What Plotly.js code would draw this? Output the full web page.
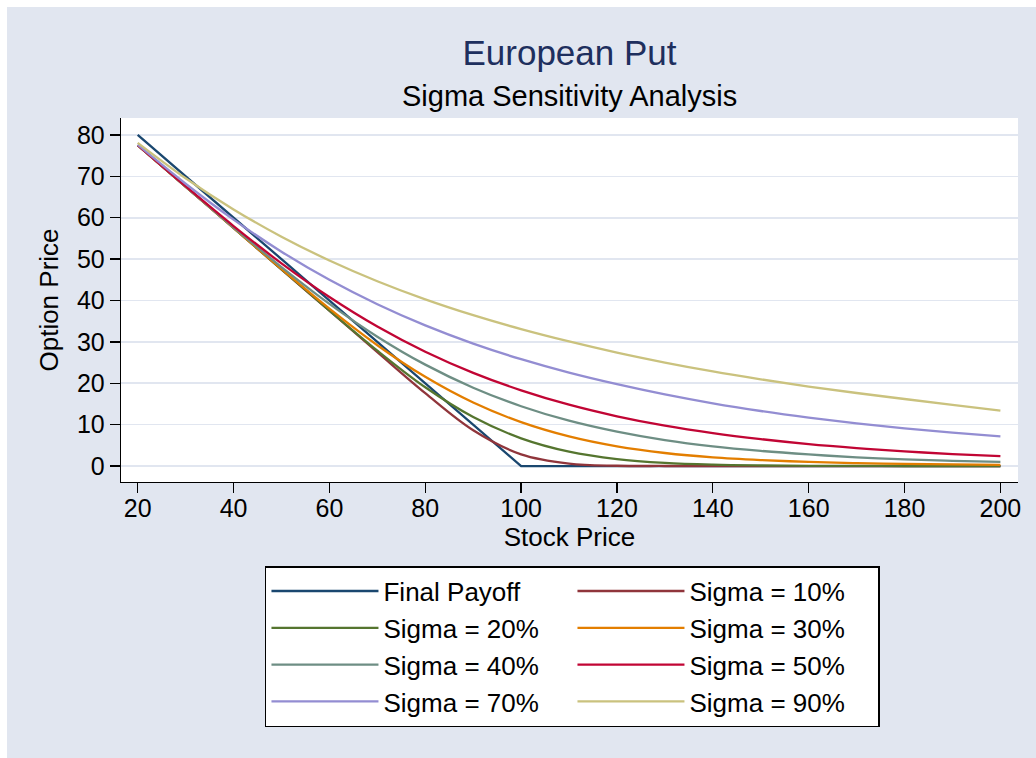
<!DOCTYPE html>
<html>
<head>
<meta charset="utf-8">
<script src="https://cdn.plot.ly/plotly-3.0.1.min.js"></script>
<style>
  html, body { margin: 0; padding: 0; background: #ffffff; }
  #grafico { position: absolute; left: 7px; top: 7px; width: 1029px; height: 751px; }
</style>
</head>
<body>
<div id="grafico"></div>
<script>
// Precio del subyacente (eje x)
var stockPrice = [20, 30, 40, 50, 60, 70, 80, 90, 100, 110, 120, 130, 140, 150, 160, 170, 180, 190, 200];

var finalPayoff = [80, 70, 60, 50, 40, 30, 20, 10, 0, 0, 0, 0, 0, 0, 0, 0, 0, 0, 0];
var sigma10 = [77.53, 67.53, 57.53, 47.53, 37.53, 27.53, 17.61, 8.64, 2.82, 0.58, 0.07, 0.01, 0, 0, 0, 0, 0, 0, 0];
var sigma20 = [77.53, 67.53, 57.53, 47.53, 37.57, 27.87, 19.02, 11.83, 6.69, 3.47, 1.67, 0.75, 0.32, 0.13, 0.05, 0.02, 0.01, 0, 0];
var sigma30 = [77.53, 67.53, 57.54, 47.63, 38.03, 29.2, 21.55, 15.34, 10.6, 7.15, 4.75, 3.15, 2.1, 1.45, 1.0, 0.7, 0.5, 0.4, 0.3];
var sigma40 = [77.53, 67.54, 57.64, 48.08, 39.18, 31.26, 24.5, 18.93, 14.45, 10.95, 8.3, 6.25, 4.75, 3.65, 2.8, 2.1, 1.6, 1.25, 1.0];
var sigma50 = [77.54, 67.61, 57.99, 48.97, 40.83, 33.7, 27.61, 22.51, 18.29, 14.82, 12.02, 9.75, 7.95, 6.5, 5.3, 4.35, 3.55, 2.9, 2.4];
var sigma70 = [77.65, 68.22, 59.55, 51.8, 44.99, 39.09, 33.98, 29.58, 25.81, 22.56, 19.77, 17.3, 15.15, 13.3, 11.7, 10.3, 9.1, 8.05, 7.15];
var sigma90 = [78.11, 69.55, 62.01, 55.41, 49.67, 44.66, 40.28, 36.45, 33.08, 30.1, 27.4, 25.0, 22.85, 20.95, 19.2, 17.65, 16.2, 14.8, 13.4];

var xTicks = [20, 40, 60, 80, 100, 120, 140, 160, 180, 200];
var yTicks = [0, 10, 20, 30, 40, 50, 60, 70, 80];

var fuente = 'Liberation Sans, Arial, Helvetica, sans-serif';

function serie(y, nombre, color, forma) {
    return {
        x: stockPrice,
        y: y,
        name: nombre,
        type: 'scatter',
        mode: 'lines',
        line: {color: color, width: 2.3, shape: forma, smoothing: 1},
        hoverinfo: 'skip'
    };
}

var data = [
    serie(finalPayoff, 'Final Payoff', '#1a476f', 'linear'),
    serie(sigma10, 'Sigma = 10%', '#90353b', 'spline'),
    serie(sigma20, 'Sigma = 20%', '#55752f', 'spline'),
    serie(sigma30, 'Sigma = 30%', '#e37e00', 'spline'),
    serie(sigma40, 'Sigma = 40%', '#6e8e84', 'spline'),
    serie(sigma50, 'Sigma = 50%', '#c10534', 'spline'),
    serie(sigma70, 'Sigma = 70%', '#938dd2', 'spline'),
    serie(sigma90, 'Sigma = 90%', '#cac27e', 'spline')
];

var layout = {
    width: 1029,
    height: 751,
    paper_bgcolor: '#e1e6f0',
    plot_bgcolor: '#ffffff',
    margin: {l: 114, r: 18, t: 111, b: 276},
    font: {family: fuente, color: '#000000'},
    showlegend: true,
    title: {
        text: 'European Put',
        font: {size: 35, color: '#1e2f5e', family: fuente},
        x: 0.5, xref: 'paper', xanchor: 'center',
        y: 1 - 46 / 751, yref: 'container', yanchor: 'middle'
    },
    annotations: [{
        text: 'Sigma Sensitivity Analysis',
        xref: 'paper', yref: 'paper',
        x: 0.5, y: 1 + (111 - 89) / 364,
        xanchor: 'center', yanchor: 'middle',
        showarrow: false,
        font: {size: 29, color: '#000000', family: fuente}
    }],
    xaxis: {
        range: [16.52, 203.67],
        tickvals: xTicks,
        ticks: 'outside', ticklen: 10, tickwidth: 1.3, tickcolor: '#000000',
        showline: true, linecolor: '#000000', linewidth: 1.3,
        showgrid: false, zeroline: false,
        tickfont: {size: 25},
        ticklabelstandoff: -6,
        title: {text: 'Stock Price', font: {size: 26}, standoff: 4}
    },
    yaxis: {
        range: [-3.86, 84.1],
        tickvals: yTicks,
        ticks: 'outside', ticklen: 10, tickwidth: 1.3, tickcolor: '#000000',
        showline: true, linecolor: '#000000', linewidth: 1.3,
        showgrid: true, gridcolor: '#e1e6f0', gridwidth: 1.6,
        zeroline: false,
        tickfont: {size: 25},
        title: {text: 'Option Price', font: {size: 26}, standoff: 10}
    },
    legend: {
        orientation: 'h',
        x: 0.1605, xanchor: 'left',
        y: -0.231, yanchor: 'top',
        bgcolor: '#ffffff', bordercolor: '#000000', borderwidth: 1.5,
        font: {size: 26, color: '#000000'},
        itemwidth: 107,
        entrywidth: 184,
        traceorder: 'normal'
    }
};

Plotly.newPlot('grafico', data, layout, {displayModeBar: false, staticPlot: true});
</script>
</body>
</html>
